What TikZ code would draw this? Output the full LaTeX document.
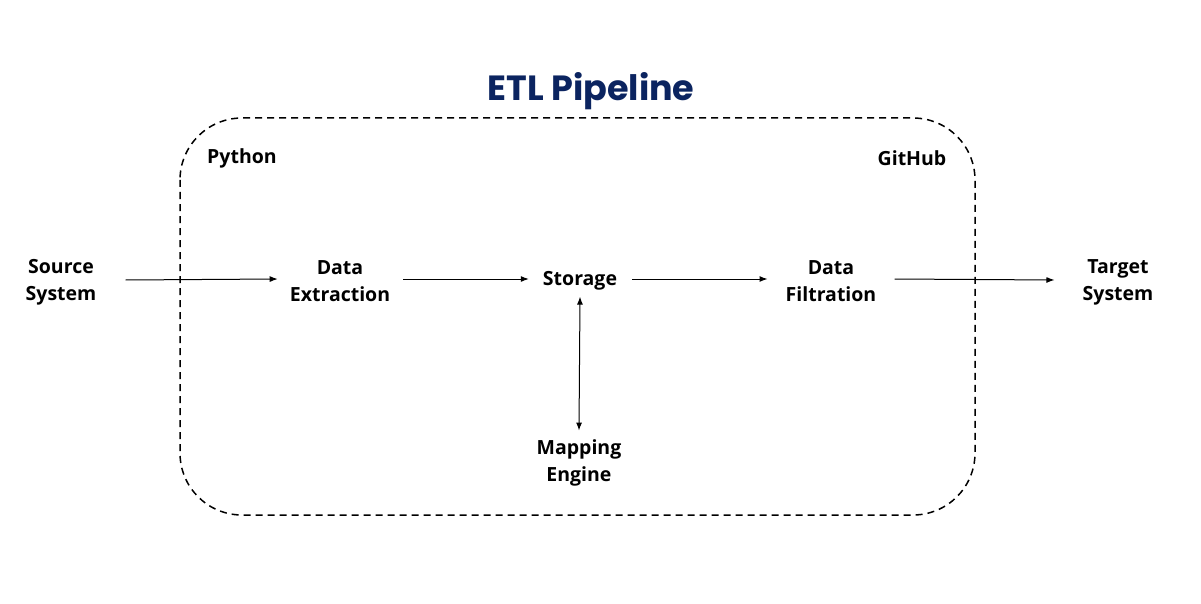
\documentclass[tikz,border=0pt]{standalone}
\usepackage{fontspec}
\setmainfont{Open Sans}
\newfontfamily\titlefont{Poppins}
\usetikzlibrary{arrows.meta}
\definecolor{etlnavy}{HTML}{0B2460}

\tikzset{
  lbl/.style={font=\bfseries\fontsize{19.5}{27}\selectfont, align=center, inner sep=0pt},
  flow/.style={-{Latex[length=8pt,width=6pt]}, line width=1pt},
  twoway/.style={{Latex[length=8pt,width=6pt]}-{Latex[length=8pt,width=6pt]}, line width=1pt},
  frame/.style={dash pattern=on 7pt off 5pt, line width=1.5pt, rounded corners=62pt}
}

\begin{document}
\begin{tikzpicture}[x=1pt,y=-1pt]
  \useasboundingbox (0,0) rectangle (1201,604);

  % Title and frame
  \node[font=\titlefont\bfseries\fontsize{35}{40}\selectfont, text=etlnavy] (title) at (591,91) {ETL Pipeline};
  \draw[frame] (180,118) rectangle (975,515);
  \node[lbl] (python) at (242,158) {Python};
  \node[lbl] (github) at (912,158) {GitHub};

  % Stages
  \node[lbl] (src) at (61,282) {Source\\System};
  \node[lbl] (ext) at (340,281) {Data\\Extraction};
  \node[lbl] (store) at (580,281) {Storage};
  \node[lbl] (filt) at (831,281) {Data\\Filtration};
  \node[lbl] (tgt) at (1118,282) {Target\\System};
  \node[lbl] (map) at (579,463) {Mapping\\Engine};

  % Connectors
  \draw[flow] ([xshift=29pt,yshift=2pt]src.east) -- ([xshift=-12pt,yshift=2pt]ext.west);
  \draw[flow] ([xshift=13pt,yshift=2pt]ext.east) -- ([xshift=-14pt,yshift=2pt]store.west);
  \draw[flow] ([xshift=15pt,yshift=2pt]store.east) -- ([xshift=-18pt,yshift=2pt]filt.west);
  \draw[flow] ([xshift=18pt,yshift=2pt]filt.east) -- ([xshift=-28pt,yshift=2pt]tgt.west);
  \draw[twoway] ([yshift=-6pt]store.south) -- ([yshift=9pt]map.north);
\end{tikzpicture}
\end{document}
